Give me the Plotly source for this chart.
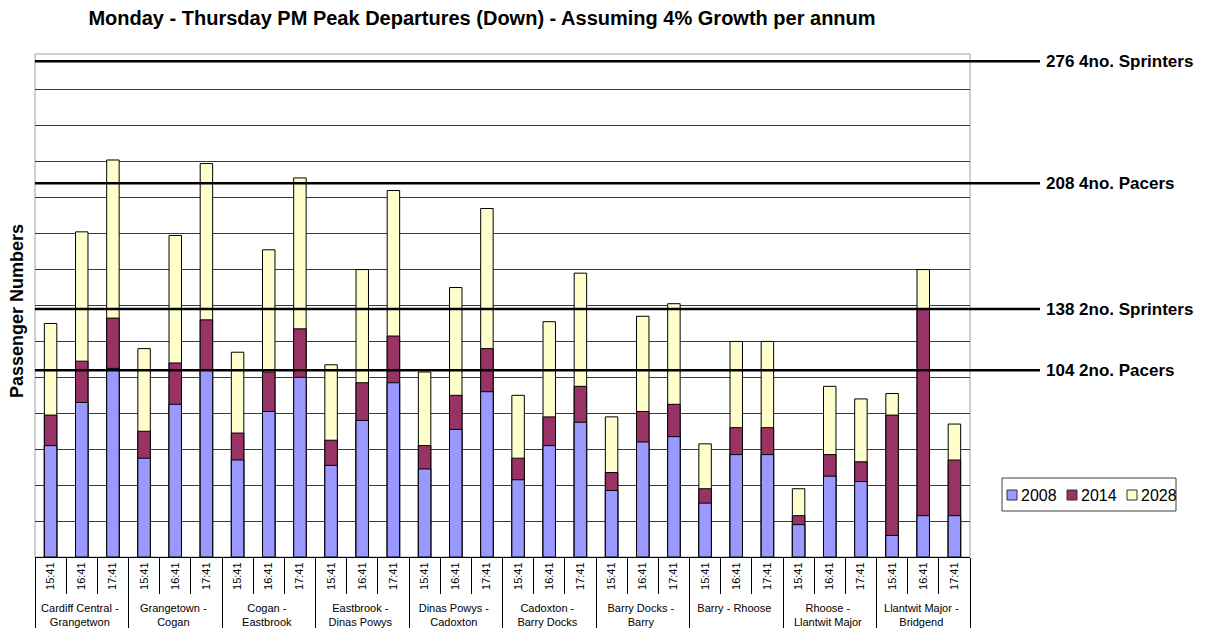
import plotly.graph_objects as go

groups = ["Cardiff Central -<br>Grangetwon", "Grangetown -<br>Cogan", "Cogan -<br>Eastbrook",
          "Eastbrook -<br>Dinas Powys", "Dinas Powys -<br>Cadoxton", "Cadoxton -<br>Barry Docks",
          "Barry Docks -<br>Barry", "Barry - Rhoose", "Rhoose -<br>Llantwit Major",
          "Llantwit Major -<br>Bridgend"]
times = ["15:41", "16:41", "17:41"]

# passenger numbers per departure (group order, then time order)
y2008 = [62, 86, 105, 55, 85, 104, 54, 81, 100, 51, 76, 97, 49, 71, 92,
         43, 62, 75, 37, 64, 67, 30, 57, 57, 18, 45, 42, 12, 23, 23]
y2014 = [79, 109, 133, 70, 108, 132, 69, 103, 127, 65, 97, 123, 62, 90, 116,
         55, 78, 95, 47, 81, 85, 38, 72, 72, 23, 57, 53, 79, 138, 54]
y2028 = [130, 181, 221, 116, 179, 219, 114, 171, 211, 107, 160, 204, 103, 150, 194,
         90, 131, 158, 78, 134, 141, 63, 120, 120, 38, 95, 88, 91, 160, 74]

years = ["2008", "2014", "2028"]
colors = ["#9999FF", "#993366", "#FFFFCC"]

cap_values = [276, 208, 138, 104]
cap_labels = ["276 4no. Sprinters", "208 4no. Pacers", "138 2no. Sprinters", "104 2no. Pacers"]

outer = [g for g in groups for _ in times]
inner = [t for _ in groups for t in times]
x = [outer, inner]

FONT = "Liberation Sans, Arial, sans-serif"
L, R, T, B = 35, 970, 54, 557
W, H = 1205, 628
PW, PH = R - L, B - T


def px(v):
    return (v - L) / PW


def py(v):
    return (B - v) / PH


fig = go.Figure()
series_vals = {"2008": y2008, "2014": y2014, "2028": y2028}
# draw latest year behind, earliest in front
for name, col in reversed(list(zip(years, colors))):
    fig.add_trace(go.Bar(x=x, y=series_vals[name], name=name, showlegend=False,
                         marker=dict(color=col, opacity=1, line=dict(color="#000000", width=1))))

fig.update_layout(
    width=W, height=H,
    barmode="overlay", bargap=0.6,
    paper_bgcolor="white", plot_bgcolor="white",
    margin=dict(l=L, r=W - R, t=T, b=H - B, autoexpand=False),
    font=dict(family=FONT, color="#000000"),
    title=dict(text="<b>Monday - Thursday PM Peak Departures (Down) - Assuming 4% Growth per annum</b>",
               x=482 / W, xanchor="center", y=1 - 18 / H, yanchor="middle",
               font=dict(size=20, family=FONT, color="#000")),
    showlegend=False,
)
fig.update_yaxes(range=[0, 280], dtick=20, showticklabels=False, ticks="", automargin=False,
                 showgrid=True, gridcolor="#3a3a3a", gridwidth=1, zeroline=False)
fig.update_xaxes(type="multicategory", showline=True, linecolor="#000", linewidth=1, automargin=False,
                 ticks="outside", tickson="boundaries", ticklen=36, tickcolor="#000",
                 tickangle=-90, tickfont=dict(size=11, family=FONT),
                 showdividers=True, dividercolor="#000", dividerwidth=1)

# y-axis title
fig.add_annotation(xref="paper", yref="paper", x=px(17), y=py(311), text="<b>Passenger Numbers</b>",
                   textangle=-90, showarrow=False, xanchor="center", yanchor="middle",
                   font=dict(size=18, family=FONT, color="#000"))

# plot frame
fig.add_shape(type="rect", xref="paper", yref="paper", x0=0, x1=1, y0=0, y1=1,
              line=dict(color="#a0a0a0", width=1), layer="below")

# capacity reference lines
for v, lab in zip(cap_values, cap_labels):
    fig.add_shape(type="line", xref="paper", yref="y", x0=0, x1=px(1040), y0=v, y1=v,
                  line=dict(color="#000", width=2.5))
    fig.add_annotation(xref="paper", yref="y", x=px(1044), y=v, text="<b>" + lab + "</b>",
                       showarrow=False, xanchor="left", yanchor="middle",
                       font=dict(size=17, family=FONT, color="#000"))

# legend box
fig.add_shape(type="rect", xref="paper", yref="paper", x0=px(1002), x1=px(1176), y0=py(511), y1=py(478),
              line=dict(color="#404040", width=1), fillcolor="white")
for i, (name, col) in enumerate(zip(years, colors)):
    x0 = 1007 + 60 * i
    fig.add_shape(type="rect", xref="paper", yref="paper", x0=px(x0), x1=px(x0 + 10),
                  y0=py(500), y1=py(490), line=dict(color="#303030", width=1), fillcolor=col)
    fig.add_annotation(xref="paper", yref="paper", x=px(x0 + 12), y=py(495), text=name,
                       showarrow=False, xanchor="left", yanchor="middle",
                       font=dict(size=16, family=FONT, color="#000"))

fig.write_html("out.html", config={"displayModeBar": False},
               post_script="document.body.style.margin='0';document.body.style.padding='0';")
